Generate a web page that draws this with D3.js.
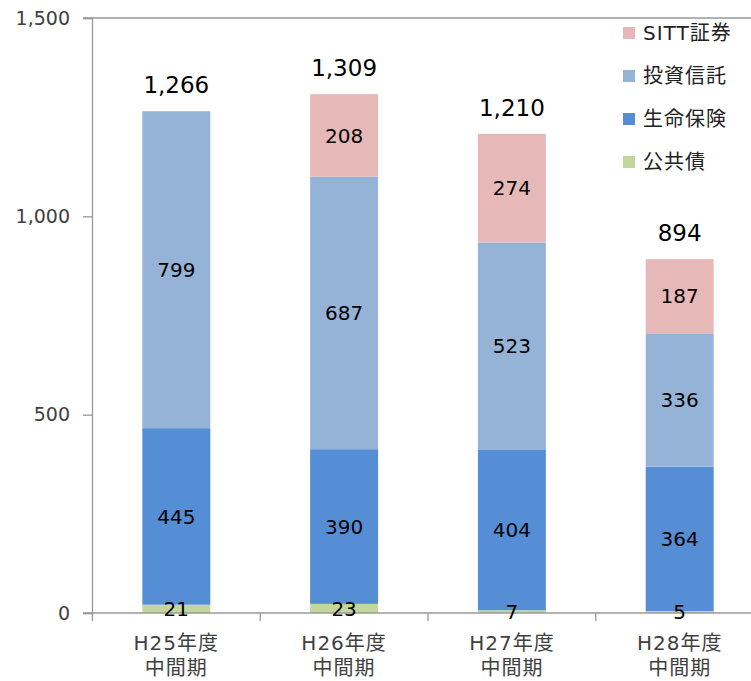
<!DOCTYPE html>
<meta charset="utf-8">
<script src="https://d3js.org/d3.v7.min.js"></script>
<style>
    body { margin: 0; background: #fff; }
    text { font-family: 'DejaVu Sans', 'Noto Sans CJK JP', sans-serif; }
</style>
<div id="chart"></div>
<script>
    // data
    let periods = ["H25年度|中間期", "H26年度|中間期", "H27年度|中間期", "H28年度|中間期"];
    let koukyousai = [21, 23, 7, 5];
    let seimeihoken = [445, 390, 404, 364];
    let toushin = [799, 687, 523, 336];
    let sitt = [0, 208, 274, 187];
    let totals = ["1,266", "1,309", "1,210", "894"];
    let yTicks = [0, 500, 1000, 1500];

    let seriesNames = ["公共債", "生命保険", "投資信託", "SITT証券"];
    let seriesValues = [koukyousai, seimeihoken, toushin, sitt];
    let colors = ["#c3d69b", "#558ed5", "#95b3d7", "#e6b9b8"];

    let width = 751, height = 681;
    let margin = {top: 18, right: 0, bottom: 68, left: 92};

    let svg = d3.select("#chart").append("svg")
        .attr("width", width)
        .attr("height", height);

    let x = d3.scaleBand()
        .domain(periods)
        .range([margin.left, 764])
        .paddingInner(0.595)
        .paddingOuter(0.3);

    let y = d3.scaleLinear()
        .domain([0, 1500])
        .range([height - margin.bottom, margin.top]);

    // build a table for stacking
    let table = periods.map(function (p, i) {
        let row = {period: p};
        seriesNames.forEach(function (s, j) { row[s] = seriesValues[j][i]; });
        return row;
    });
    let stacked = d3.stack().keys(seriesNames)(table);

    // top border line
    svg.append("line")
        .attr("x1", margin.left - 9).attr("x2", width)
        .attr("y1", y(1500)).attr("y2", y(1500))
        .attr("stroke", "#999").attr("stroke-width", 1.3);

    // y axis
    let yAxis = svg.append("g")
        .attr("transform", "translate(" + margin.left + ",0)")
        .call(d3.axisLeft(y).tickValues(yTicks).tickSize(9).tickPadding(13)
            .tickFormat(d3.format(",")));
    yAxis.attr("font-family", null);
    yAxis.selectAll("path, line").attr("stroke", "#999").attr("stroke-width", 1.3);
    yAxis.selectAll("text").attr("font-size", 19).attr("fill", "#404040");

    // bars
    let groups = svg.selectAll("g.series")
        .data(stacked)
        .enter().append("g")
        .attr("class", "series")
        .attr("fill", function (d, i) { return colors[i]; });

    groups.selectAll("rect")
        .data(function (d) { return d; })
        .enter().append("rect")
        .attr("x", function (d) { return x(d.data.period); })
        .attr("width", x.bandwidth())
        .attr("y", function (d) { return y(d[1]); })
        .attr("height", function (d) { return y(d[0]) - y(d[1]); });

    // x axis
    let xLine = svg.append("g");
    xLine.append("line")
        .attr("x1", margin.left - 9).attr("x2", width)
        .attr("y1", y(0)).attr("y2", y(0))
        .attr("stroke", "#999").attr("stroke-width", 1.3);
    let step = x.step();
    let boundaries = periods.map(function (p) { return x(p) - step * x.paddingInner() / 2; });
    xLine.selectAll("line.tick")
        .data(boundaries)
        .enter().append("line")
        .attr("class", "tick")
        .attr("x1", function (d) { return d; }).attr("x2", function (d) { return d; })
        .attr("y1", y(0)).attr("y2", y(0) + 8)
        .attr("stroke", "#999").attr("stroke-width", 1.3);

    // segment labels
    let labelGroups = svg.selectAll("g.labels")
        .data(stacked)
        .enter().append("g")
        .attr("class", "labels");
    labelGroups.selectAll("text")
        .data(function (d) { return d.filter(function (e) { return e[1] - e[0] > 0; }); })
        .enter().append("text")
        .attr("x", function (d) { return x(d.data.period) + x.bandwidth() / 2; })
        .attr("y", function (d) { return (y(d[0]) + y(d[1])) / 2; })
        .attr("dy", "0.36em")
        .attr("text-anchor", "middle")
        .attr("font-size", 20)
        .attr("fill", "#000")
        .text(function (d) { return d[1] - d[0]; });

    let catLabels = svg.selectAll("text.cat")
        .data(periods)
        .enter().append("text")
        .attr("class", "cat")
        .attr("text-anchor", "middle")
        .attr("font-size", 20)
        .attr("letter-spacing", 1)
        .attr("fill", "#404040")
        .attr("x", function (d) { return x(d) + x.bandwidth() / 2; })
        .attr("y", y(0) + 37);
    catLabels.selectAll("tspan")
        .data(function (d) { return d.split("|"); })
        .enter().append("tspan")
        .attr("x", function () { return d3.select(this.parentNode).attr("x"); })
        .attr("dy", function (d, i) { return i === 0 ? 0 : 25; })
        .text(function (d) { return d; });

    // totals
    svg.selectAll("text.total")
        .data(periods)
        .enter().append("text")
        .attr("class", "total")
        .attr("text-anchor", "middle")
        .attr("font-size", 23)
        .attr("fill", "#000")
        .attr("x", function (d) { return x(d) + x.bandwidth() / 2; })
        .attr("y", function (d, i) {
            let sum = seriesValues.reduce(function (a, s) { return a + s[i]; }, 0);
            return y(sum) - 18;
        })
        .text(function (d, i) { return totals[i]; });

    // legend
    let legendOrder = [3, 2, 1, 0];
    let legend = svg.selectAll("g.legend")
        .data(legendOrder)
        .enter().append("g")
        .attr("class", "legend")
        .attr("transform", function (d, i) { return "translate(623," + (33 + i * 43) + ")"; });
    legend.append("rect")
        .attr("x", 0).attr("y", -6)
        .attr("width", 12).attr("height", 12)
        .attr("fill", function (d) { return colors[d]; });
    legend.append("text")
        .attr("x", 20).attr("dy", "0.36em")
        .attr("font-size", 20)
        .attr("letter-spacing", 1)
        .attr("fill", "#222")
        .text(function (d) { return seriesNames[d]; });
</script>
